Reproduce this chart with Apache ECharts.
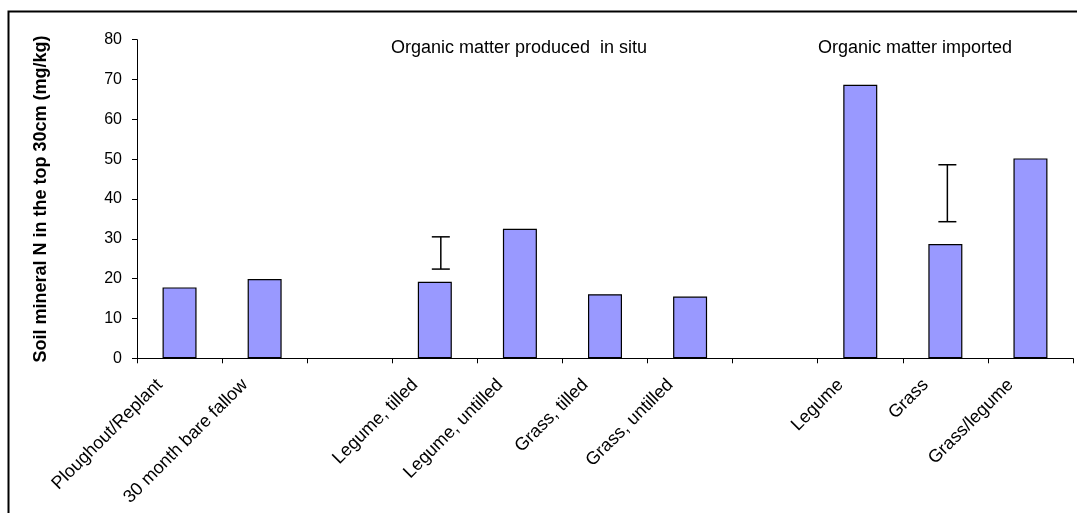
<!DOCTYPE html>
<html>
<head>
<meta charset="utf-8">
<script src="https://cdn.jsdelivr.net/npm/echarts@6/dist/echarts.min.js"></script>
<style>
html,body{margin:0;padding:0;background:#fff;}
#chart{width:1077px;height:513px;}
</style>
</head>
<body>
<div id="chart"></div>
<script>
// ---- data ----
var categories = ['Ploughout/Replant', '30 month bare fallow', ' ', 'Legume, tilled', 'Legume, untilled',
  'Grass, tilled', 'Grass, untilled', '  ', 'Legume', 'Grass', 'Grass/legume'];
var soilN = [17.8, 19.9, null, 19.2, 32.5, 16.1, 15.5, null, 68.7, 28.7, 50.2];
var errLow = [null, null, null, 22.4, null, null, null, null, null, 34.3, null];
var errHigh = [null, null, null, 30.5, null, null, null, null, null, 48.6, null];
var yTicks = [0, 10, 20, 30, 40, 50, 60, 70, 80];
var groupLabels = ['Organic matter produced  in situ', 'Organic matter imported'];
var yTitle = 'Soil mineral N in the top 30cm (mg/kg)';

// error bar data built from arrays
var errData = [];
for (var i = 0; i < categories.length; i++) {
  if (errLow[i] != null) errData.push([i, errLow[i], errHigh[i]]);
}
// small horizontal nudge of each error bar (px), style only
var errNudge = {3: 6, 9: 2};

var chart = echarts.init(document.getElementById('chart'));
var font = '"Liberation Sans", Arial, sans-serif';
chart.setOption({
  animation: false,
  backgroundColor: '#fff',
  grid: {left: 137, right: 4, top: 39.7, bottom: 154.7, containLabel: false},
  xAxis: {
    type: 'category',
    data: categories,
    boundaryGap: true,
    axisLine: {show: true, lineStyle: {color: '#000', width: 1}},
    axisTick: {show: true, interval: 0, length: 5, lineStyle: {color: '#000'}},
    axisLabel: {interval: 0, rotate: 45, fontSize: 18, color: '#000', fontFamily: font, margin: 4, padding: [0, 28, 0, 0]}
  },
  yAxis: {
    type: 'value',
    min: yTicks[0], max: yTicks[yTicks.length - 1], interval: yTicks[1] - yTicks[0],
    splitLine: {show: false},
    axisLine: {show: true, lineStyle: {color: '#000', width: 1}},
    axisTick: {show: true, length: 5, lineStyle: {color: '#000'}},
    axisLabel: {fontSize: 16, color: '#000', fontFamily: font, margin: 15},
    name: yTitle,
    nameLocation: 'middle',
    nameGap: 87,
    nameTextStyle: {fontSize: 18, fontWeight: 'bold', color: '#000', fontFamily: font}
  },
  graphic: [
    {type: 'rect', shape: {x: 8.5, y: 11.5, width: 1200, height: 600}, style: {fill: 'none', stroke: '#000', lineWidth: 2}, silent: true, z: 100},
    {type: 'text', left: 391, top: 39, style: {text: groupLabels[0], fontSize: 18, fontFamily: font, fill: '#000'}},
    {type: 'text', left: 818, top: 39, style: {text: groupLabels[1], fontSize: 18, fontFamily: font, fill: '#000'}}
  ],
  series: [
    {
      type: 'bar',
      data: soilN,
      barWidth: 34,
      itemStyle: {color: '#9999FF', borderColor: '#000', borderWidth: 1.2}
    },
    {
      type: 'custom',
      data: errData,
      encode: {x: 0, y: [1, 2]},
      renderItem: function (params, api) {
        var idx = api.value(0);
        var lo = api.coord([idx, api.value(1)]);
        var hi = api.coord([idx, api.value(2)]);
        var x = lo[0] + (errNudge[idx] || 0);
        var half = 9;
        var st = {stroke: '#000', lineWidth: 1.5};
        return {
          type: 'group',
          children: [
            {type: 'line', shape: {x1: x, y1: lo[1], x2: x, y2: hi[1]}, style: st},
            {type: 'line', shape: {x1: x - half, y1: lo[1], x2: x + half, y2: lo[1]}, style: st},
            {type: 'line', shape: {x1: x - half, y1: hi[1], x2: x + half, y2: hi[1]}, style: st}
          ]
        };
      },
      z: 5
    }
  ]
});
</script>
</body>
</html>
